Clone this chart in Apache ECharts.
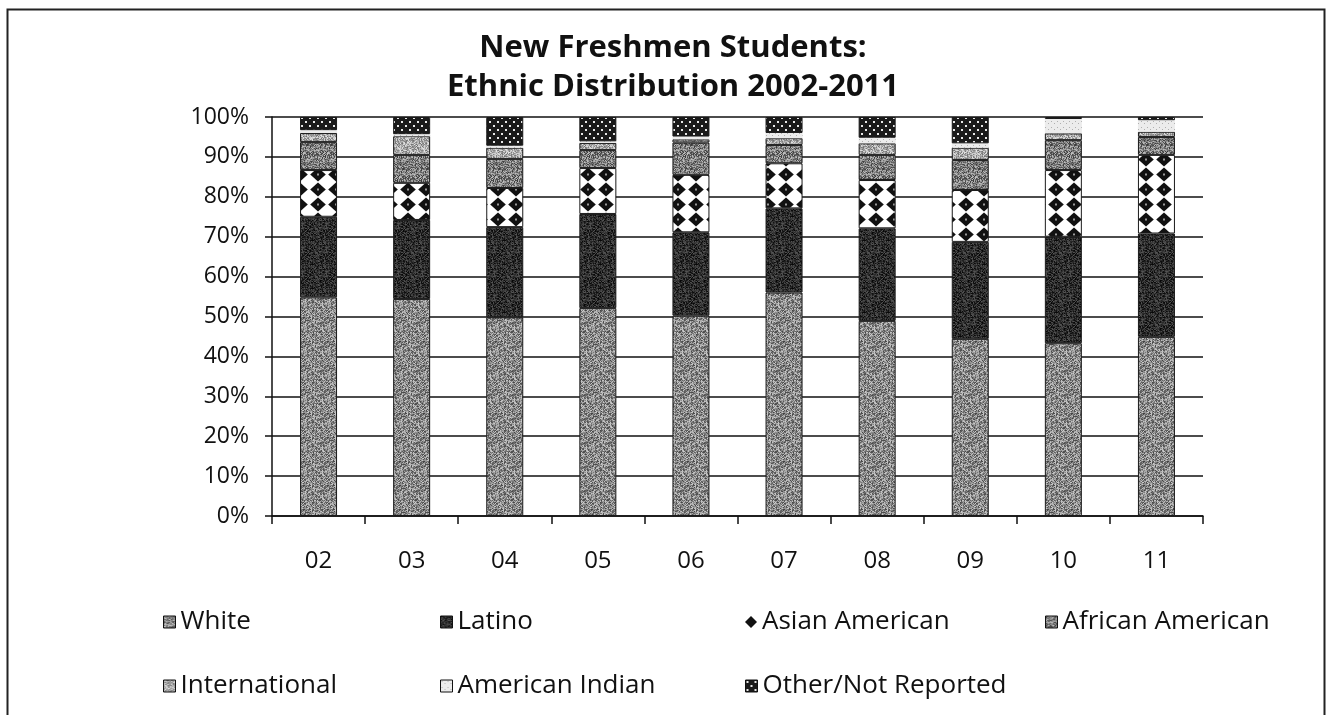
<!DOCTYPE html>
<html>
<head>
<meta charset="utf-8">
<script src="https://cdn.jsdelivr.net/npm/echarts@6/dist/echarts.min.js"></script>
<style>
html,body{margin:0;padding:0;background:#fff;}
#chart{width:1328px;height:715px;}
</style>
</head>
<body>
<div id="chart"></div>
<script>
// ---- data (percent of new freshmen) ----
const categories = ['02','03','04','05','06','07','08','09','10','11'];
const white      = [54.8, 54.4, 49.8, 52.1, 50.2, 56.0, 48.9, 44.4, 43.3, 44.9];
const latino     = [20.2, 19.8, 22.6, 23.6, 20.9, 21.1, 23.2, 24.3, 26.7, 25.9];
const asianAm    = [11.7,  9.3,  9.8, 11.5, 14.4, 11.3, 12.1, 13.0, 16.7, 19.7];
const africanAm  = [ 7.0,  7.0,  7.3,  4.5,  8.1,  4.6,  6.3,  7.5,  7.5,  4.5];
const intl       = [ 2.3,  4.7,  2.8,  1.8,  0.8,  1.7,  2.9,  3.1,  1.7,  1.3];
const amIndian   = [ 0.7,  0.5,  0.5,  0.4,  0.7,  1.3,  1.4,  1.1,  3.6,  2.9];
const other      = [ 3.3,  4.3,  7.2,  6.1,  4.9,  4.0,  5.2,  6.6,  0.5,  0.8];
const yTicks = [0,10,20,30,40,50,60,70,80,90,100];
const seriesNames = ['White','Latino','Asian American','African American','International','American Indian','Other/Not Reported'];

// ---- texture helpers (styling only) ----
function hash(i, s){ let h = Math.sin(i*12.9898 + s*78.233)*43758.5453; return h - Math.floor(h); }
function noiseTile(base, amp, seed){
  const size = 24;
  const c = document.createElement('canvas'); c.width = c.height = size;
  const ctx = c.getContext('2d');
  const img = ctx.createImageData(size, size);
  for (let i = 0; i < size*size; i++){
    let v = base + (hash(i, seed) - 0.5) * 2 * amp;
    v = Math.max(0, Math.min(255, v));
    img.data[i*4] = img.data[i*4+1] = img.data[i*4+2] = v;
    img.data[i*4+3] = 255;
  }
  ctx.putImageData(img, 0, 0);
  return c;
}
function diamondTile(){
  const w = 18, h = 15;
  const c = document.createElement('canvas'); c.width = w; c.height = h;
  const ctx = c.getContext('2d');
  ctx.fillStyle = '#fff'; ctx.fillRect(0,0,w,h);
  ctx.fillStyle = '#111';
  ctx.beginPath();
  ctx.moveTo(9,0.4); ctx.lineTo(16.8,7.5); ctx.lineTo(9,14.6); ctx.lineTo(1.2,7.5); ctx.closePath();
  ctx.fill();
  ctx.fillStyle = '#999';
  ctx.fillRect(8,6.5,2,2);
  return c;
}
function dotTile(){
  const s = 8;
  const c = document.createElement('canvas'); c.width = c.height = s;
  const ctx = c.getContext('2d');
  ctx.fillStyle = '#1a1a1a'; ctx.fillRect(0,0,s,s);
  ctx.fillStyle = '#e8e8e8';
  ctx.fillRect(1,1,2,2); ctx.fillRect(5,5,2,2);
  return c;
}
function lightTile(){
  const s = 6;
  const c = document.createElement('canvas'); c.width = c.height = s;
  const ctx = c.getContext('2d');
  ctx.fillStyle = '#ececec'; ctx.fillRect(0,0,s,s);
  ctx.fillStyle = '#b0b0b0';
  ctx.fillRect(1,1,1,1); ctx.fillRect(4,3,1,1);
  return c;
}
const patterns = [
  {image: noiseTile(135, 70, 1), repeat: 'repeat'},
  {image: noiseTile(45, 40, 2), repeat: 'repeat'},
  {image: diamondTile(), repeat: 'repeat', x: 3, y: 2},
  {image: noiseTile(125, 70, 3), repeat: 'repeat'},
  {image: noiseTile(170, 60, 4), repeat: 'repeat'},
  {image: lightTile(), repeat: 'repeat'},
  {image: dotTile(), repeat: 'repeat'}
];
const values = [white, latino, asianAm, africanAm, intl, amIndian, other];

const FONT = '"Open Sans", sans-serif';
const chart = echarts.init(document.getElementById('chart'), null, {renderer: 'canvas'});

const series = seriesNames.map((n, i) => ({
  name: n,
  type: 'bar',
  stack: 'total',
  barWidth: 37,
  data: values[i],
  itemStyle: {
    color: patterns[i],
    borderColor: '#1a1a1a',
    borderWidth: i === 5 ? 0 : 1
  },
  emphasis: {disabled: true}
}));

const legendPos = [
  [163, 609], [440, 609], [745, 609], [1045, 609],
  [163, 673], [440, 673], [745, 673]
];
const legends = seriesNames.map((n, i) => ({
  left: legendPos[i][0], top: legendPos[i][1],
  padding: 0,
  orient: 'horizontal',
  itemWidth: 12, itemHeight: 12, itemGap: 10,
  textStyle: {fontFamily: FONT, fontSize: 26, color: '#111'},
  selectedMode: false,
  data: [i === 2
    ? {name: n, icon: 'diamond', itemStyle: {color: '#111', borderWidth: 0}}
    : {name: n, icon: 'rect', itemStyle: {borderColor: '#111', borderWidth: 1}}]
}));

chart.setOption({
  animation: false,
  backgroundColor: '#fff',
  title: {
    text: 'New Freshmen Students:\nEthnic Distribution 2002-2011',
    left: 668, top: 24, textAlign: 'center',
    textStyle: {fontFamily: FONT, fontSize: 31, fontWeight: 'bold', color: '#111', lineHeight: 39}
  },
  legend: legends,
  grid: {left: 272, right: 125, top: 117, bottom: 199},
  xAxis: {
    type: 'category',
    data: categories,
    boundaryGap: true,
    axisLine: {lineStyle: {color: '#111', width: 1.5}},
    axisTick: {show: true, length: 8, inside: false, lineStyle: {color: '#111', width: 1.5}},
    axisLabel: {fontFamily: FONT, fontSize: 24, color: '#111', margin: 33}
  },
  yAxis: {
    type: 'value',
    min: yTicks[0], max: yTicks[yTicks.length-1], interval: 10,
    axisLine: {show: true, lineStyle: {color: '#111', width: 1.5}},
    axisTick: {show: true, length: 7, lineStyle: {color: '#111', width: 1.5}},
    splitLine: {show: true, lineStyle: {color: '#111', width: 1.5}},
    axisLabel: {fontFamily: FONT, fontSize: 23, color: '#111', margin: 23, formatter: '{value}%'}
  },
  graphic: [{
    type: 'rect', left: 5, top: 7, silent: true,
    shape: {width: 1317, height: 760},
    style: {fill: 'none', stroke: '#222', lineWidth: 2}
  }],
  series: series
});
</script>
</body>
</html>
